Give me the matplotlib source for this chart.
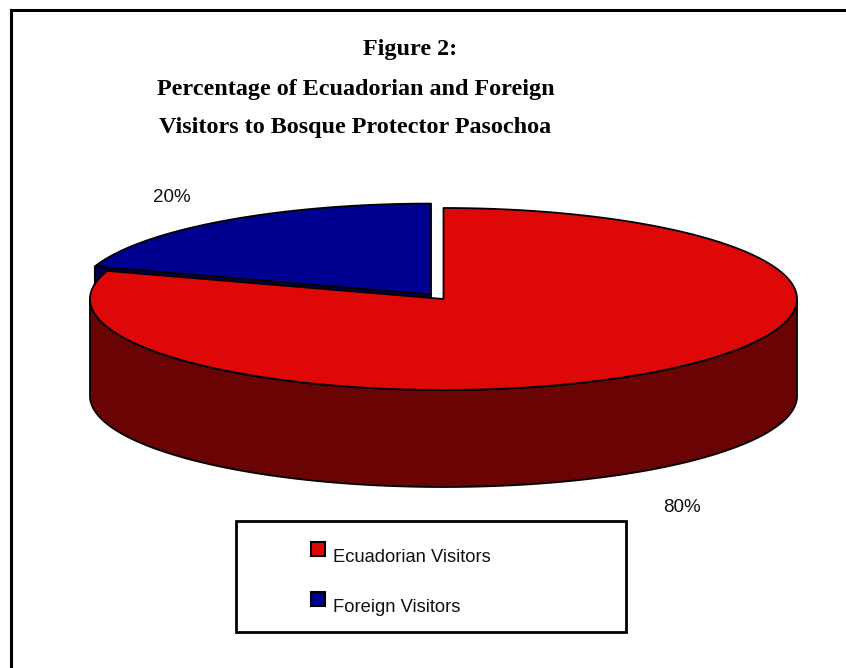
import numpy as np
import matplotlib.pyplot as plt
from matplotlib.patches import Polygon, Rectangle

# Data
labels = ['Ecuadorian Visitors', 'Foreign Visitors']
shares = [80, 20]
pct_labels = ['80%', '20%']
top_colors = ['#DF0808', '#000090']
side_colors = ['#6A0404', '#00004C']
explode = [0.0, 0.06]

title_lines = ['Figure 2:',
               'Percentage of Ecuadorian and Foreign',
               'Visitors to Bosque Protector Pasochoa']

W, H = 846, 668
fig = plt.figure(figsize=(W / 100, H / 100), dpi=100)
ax = fig.add_axes([0, 0, 1, 1])
ax.set_xlim(0, W)
ax.set_ylim(H, 0)
ax.axis('off')

# 3D pie geometry (pixel units)
cx, cy = 443.5, 299.0
a, b = 353.5, 91.0
depth = 97.0


def ell(theta_deg, dx=0.0, dy=0.0, dz=0.0):
    t = np.radians(theta_deg)
    return np.column_stack([cx + dx + a * np.cos(t), cy + dy - b * np.sin(t) + dz])


# slice angle ranges, going clockwise from 12 o'clock
bounds = []
start = 90.0
for s in shares:
    end = start - 360.0 * s / sum(shares)
    bounds.append((start, end))
    start = end

edge_kw = dict(edgecolor='black', linewidth=1.3, joinstyle='round')


def cut_face(phi, dx, dy, color):
    apex = np.array([[cx + dx, cy + dy]])
    e_pt = ell(np.array([phi]), dx, dy)
    face = np.vstack([apex, e_pt, e_pt + [0, depth], apex + [0, depth]])
    ax.add_patch(Polygon(face, closed=True, facecolor=color, **edge_kw))


# draw foreign (back) slice first, then ecuadorian on top
for i in [1, 0]:
    st, en = bounds[i]
    mid = np.radians((st + en) / 2)
    dx = explode[i] * a * np.cos(mid)
    dy = -explode[i] * b * np.sin(mid)
    apex = np.array([[cx + dx, cy + dy]])

    # radial cut faces that turn toward the viewer
    if np.cos(np.radians(st)) < -1e-9:
        cut_face(st, dx, dy, side_colors[i])
    if np.cos(np.radians(en)) > 1e-9:
        cut_face(en, dx, dy, side_colors[i])

    # outer wall, front half only
    lo, hi = max(en, -180.0), min(st, 0.0)
    if hi > lo:
        th = np.linspace(lo, hi, 200)
        upper = ell(th, dx, dy)
        lower = ell(th[::-1], dx, dy, depth)
        ax.add_patch(Polygon(np.vstack([upper, lower]), closed=True,
                             facecolor=side_colors[i], **edge_kw))

    th = np.linspace(st, en, 300)
    top = np.vstack([apex, ell(th, dx, dy)])
    ax.add_patch(Polygon(top, closed=True, facecolor=top_colors[i], **edge_kw))

# percentage labels
ax.text(682, 508, pct_labels[0], fontsize=13.5, family='Liberation Sans',
        ha='center', va='center', color='#111111')
ax.text(172, 198, pct_labels[1], fontsize=13.5, family='Liberation Sans',
        ha='center', va='center', color='#111111')

# title
title_pos = [(410, 50), (356, 89), (355, 128)]
for line, (tx, ty) in zip(title_lines, title_pos):
    ax.text(tx, ty, line, fontsize=17.4, family='Liberation Serif', weight='bold',
            ha='center', va='center', color='black')

# legend box
ax.add_patch(Rectangle((236, 521), 390, 111, facecolor='white',
                       edgecolor='black', linewidth=2))
for k, (lab, col) in enumerate(zip(labels, top_colors)):
    y0 = 542 + 50 * k
    ax.add_patch(Rectangle((311, y0), 14, 14, facecolor=col,
                           edgecolor='black', linewidth=1.5))
    ax.text(333, y0 + 16, lab, fontsize=13.2, family='Liberation Sans',
            ha='left', va='center', color='#111111')

# chart area frame (only top and left edges are inside the picture)
ax.plot([11, 11, W + 5], [H + 5, 10, 10], color='black', linewidth=2.2,
        solid_joinstyle='miter', clip_on=False)

fig.savefig('out.png', dpi=100)
